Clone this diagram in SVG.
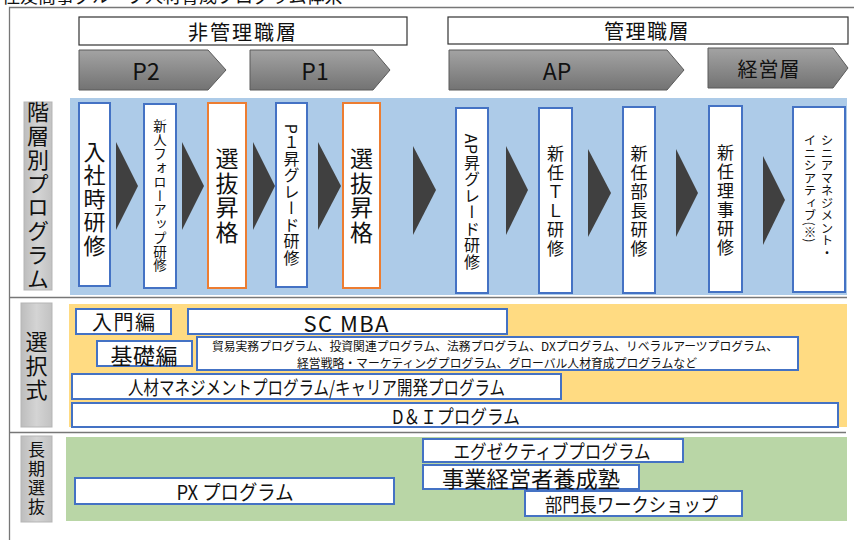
<svg xmlns="http://www.w3.org/2000/svg" width="854" height="540" viewBox="0 0 854 540">
<defs>
<style>
text{font-family:'Noto Sans CJK JP','Noto Sans',sans-serif;fill:#111;}
.v{writing-mode:vertical-rl;text-anchor:middle;}
.vs{writing-mode:vertical-rl;text-anchor:start;}
.h{text-anchor:middle;dominant-baseline:central;}
.box{fill:#fff;stroke:#4472c4;stroke-width:2;}
.obox{fill:#fff;stroke:#ed7d31;stroke-width:2;}
.hdr{fill:#fff;stroke:#333;stroke-width:1.2;}
.arw{fill:url(#gArrow);stroke:#5a5a5a;stroke-width:1;}
.lbl{fill:url(#gLabel);stroke:#b5b5b5;stroke-width:1;}
.tri{fill:#404040;}
.sep{stroke:#777;stroke-width:1.3;fill:none;}
</style>
<linearGradient id="gArrow" x1="0" y1="0" x2="0" y2="1">
<stop offset="0" stop-color="#a3a3a3"/>
<stop offset="1" stop-color="#737373"/>
</linearGradient>
<linearGradient id="gLabel" x1="0" y1="0" x2="1" y2="0">
<stop offset="0" stop-color="#bdbdbd"/>
<stop offset="0.5" stop-color="#d4d4d4"/>
<stop offset="1" stop-color="#c2c2c2"/>
</linearGradient>
</defs>

<rect width="854" height="540" fill="#fff"/>

<text x="2" y="2.5" font-size="18" fill="#222">住友商事グループ人材育成プログラム体系</text>

<g id="frame">
<path class="sep" d="M9.5,540 V7.5 H854" stroke="#555"/>
<path class="sep" d="M10,297.5 H847"/>
<path class="sep" d="M10,432.5 H846"/>
</g>

<g id="sections">
<rect x="70" y="98" width="777" height="197" fill="#adcbe8"/>
<rect x="69" y="304" width="778" height="123" fill="#ffdb82"/>
<rect x="66" y="437" width="781" height="84" fill="#b9d6a6"/>
</g>

<g id="header-nonmgmt">
<rect class="hdr" x="79" y="17" width="328" height="28"/>
<text class="h" x="243" y="31" font-size="20" letter-spacing="2">非管理職層</text>
</g>
<g id="header-mgmt">
<rect class="hdr" x="448" y="17" width="400" height="27"/>
<text class="h" x="647" y="30.5" font-size="20" letter-spacing="1.5">管理職層</text>
</g>

<g id="stage-p2">
<polygon class="arw" points="79,50 208,50 226,70 208,90 79,90"/>
<text class="h" x="146" y="70" font-size="23">P2</text>
</g>
<g id="stage-p1">
<polygon class="arw" points="250,50 373,50 390,70 373,90 250,90"/>
<text class="h" x="315" y="70" font-size="23">P1</text>
</g>
<g id="stage-ap">
<polygon class="arw" points="449,50 667,50 684,70 667,90 449,90"/>
<text class="h" x="557" y="70" font-size="23">AP</text>
</g>
<g id="stage-exec">
<polygon class="arw" points="708,48 833,48 848,68 833,88 708,88"/>
<text class="h" x="769" y="68" font-size="20" letter-spacing="1">経営層</text>
</g>

<g id="label-kaisou">
<rect class="lbl" x="24" y="102" width="28" height="188"/>
<text class="v" x="38" y="196" font-size="22" letter-spacing="1.8">階層別プログラム</text>
</g>
<g id="label-sentaku">
<rect class="lbl" x="21" y="303" width="31" height="124"/>
<text class="v" x="36.5" y="367" font-size="22" letter-spacing="2">選択式</text>
</g>
<g id="label-chouki">
<rect class="lbl" x="21" y="436" width="31" height="86"/>
<text class="v" x="36.5" y="479" font-size="17" letter-spacing="2">長期選抜</text>
</g>

<g id="connectors">
<polygon class="tri" points="116,142 138,186 116,230"/>
<polygon class="tri" points="182,142 204,186 182,230"/>
<polygon class="tri" points="253,142 275,186 253,230"/>
<polygon class="tri" points="318,142 341,186 318,230"/>
<polygon class="tri" points="413,146 436,190 413,235"/>
<polygon class="tri" points="506,146 528,190 506,235"/>
<polygon class="tri" points="588,149 611,193 588,237"/>
<polygon class="tri" points="676,149 698,193 676,237"/>
<polygon class="tri" points="763,156 785,200 763,245"/>
</g>

<g id="n-nyusha">
<rect class="box" x="79" y="103" width="31" height="183"/>
<text class="v" x="94.5" y="199" font-size="22" letter-spacing="1.5">入社時研修</text>
</g>
<g id="n-follow">
<rect class="box" x="144" y="104" width="32" height="184"/>
<text class="v" x="160" y="196" font-size="13.5" letter-spacing="0.4">新人フォローアップ研修</text>
</g>
<g id="n-senbatsu1">
<rect class="obox" x="208" y="103" width="38" height="185"/>
<text class="v" x="227" y="196" font-size="23" letter-spacing="1.5">選抜昇格</text>
</g>
<g id="n-p1grade">
<rect class="box" x="276" y="103" width="31" height="184"/>
<text class="v" x="291.5" y="195" font-size="16" letter-spacing="0.5">P１昇グレード研修</text>
</g>
<g id="n-senbatsu2">
<rect class="obox" x="343" y="103" width="37" height="185"/>
<text class="v" x="361.5" y="196" font-size="23" letter-spacing="1.5">選抜昇格</text>
</g>
<g id="n-apgrade">
<rect class="box" x="456" y="108" width="32" height="185"/>
<text class="v" x="472" y="202" font-size="16" letter-spacing="0.5">AP昇グレード研修</text>
</g>
<g id="n-tl">
<rect class="box" x="539" y="108" width="33" height="185"/>
<text class="v" x="555.5" y="202" font-size="17" letter-spacing="2">新任ＴＬ研修</text>
</g>
<g id="n-bucho">
<rect class="box" x="623" y="107" width="32" height="186"/>
<text class="v" x="639" y="202" font-size="17" letter-spacing="2">新任部長研修</text>
</g>
<g id="n-riji">
<rect class="box" x="709" y="106" width="33" height="186"/>
<text class="v" x="725.5" y="201" font-size="17" letter-spacing="2">新任理事研修</text>
</g>
<g id="n-senior">
<rect class="box" x="793" y="107" width="52" height="185"/>
<text class="vs" x="827" y="134" font-size="12.5">シニアマネジメント・</text>
<text class="vs" x="810" y="134" font-size="12.5">イニシアティブ(※)</text>
</g>

<g id="n-nyumon">
<rect class="box" x="76" y="309" width="95" height="25"/>
<text class="h" x="123.5" y="321.5" font-size="20" textLength="63">入門編</text>
</g>
<g id="n-scmba">
<rect class="box" x="188" y="309" width="319" height="25"/>
<text class="h" x="346" y="321.5" font-size="22" textLength="85">SC MBA</text>
</g>
<g id="n-kiso">
<rect class="box" x="97" y="341" width="95" height="25"/>
<text class="h" x="144" y="353.5" font-size="22" textLength="67">基礎編</text>
</g>
<g id="n-kiso-programs">
<rect class="box" x="197" y="337" width="601" height="33"/>
<text class="h" x="495" y="345.5" font-size="12" textLength="566" lengthAdjust="spacingAndGlyphs">貿易実務プログラム、投資関連プログラム、法務プログラム、DXプログラム、リベラルアーツプログラム、</text>
<text class="h" x="497" y="362" font-size="12" textLength="400" lengthAdjust="spacingAndGlyphs">経営戦略・マーケティングプログラム、グローバル人材育成プログラムなど</text>
</g>
<g id="n-jinzai">
<rect class="box" x="72" y="374" width="489" height="25"/>
<text class="h" x="316.5" y="386.5" font-size="19" textLength="377" lengthAdjust="spacingAndGlyphs">人材マネジメントプログラム/キャリア開発プログラム</text>
</g>
<g id="n-dni">
<rect class="box" x="72" y="403" width="766" height="24"/>
<text class="h" x="456" y="415" font-size="19" textLength="128" lengthAdjust="spacingAndGlyphs">D＆Ｉプログラム</text>
</g>

<g id="n-px">
<rect class="box" x="75" y="478" width="319" height="26"/>
<text class="h" x="235" y="491" font-size="20" textLength="117" lengthAdjust="spacingAndGlyphs">PX プログラム</text>
</g>
<g id="n-executive">
<rect class="box" x="423" y="439" width="260" height="23"/>
<text class="h" x="552" y="450.5" font-size="19" textLength="197" lengthAdjust="spacingAndGlyphs">エグゼクティブプログラム</text>
</g>
<g id="n-jigyo">
<rect class="box" x="423" y="465" width="216" height="24"/>
<text class="h" x="531" y="477" font-size="22" textLength="178" lengthAdjust="spacingAndGlyphs">事業経営者養成塾</text>
</g>
<g id="n-workshop">
<rect class="box" x="525" y="491" width="217" height="25"/>
<text class="h" x="631.5" y="503.5" font-size="19" textLength="173" lengthAdjust="spacingAndGlyphs">部門長ワークショップ</text>
</g>
</svg>
